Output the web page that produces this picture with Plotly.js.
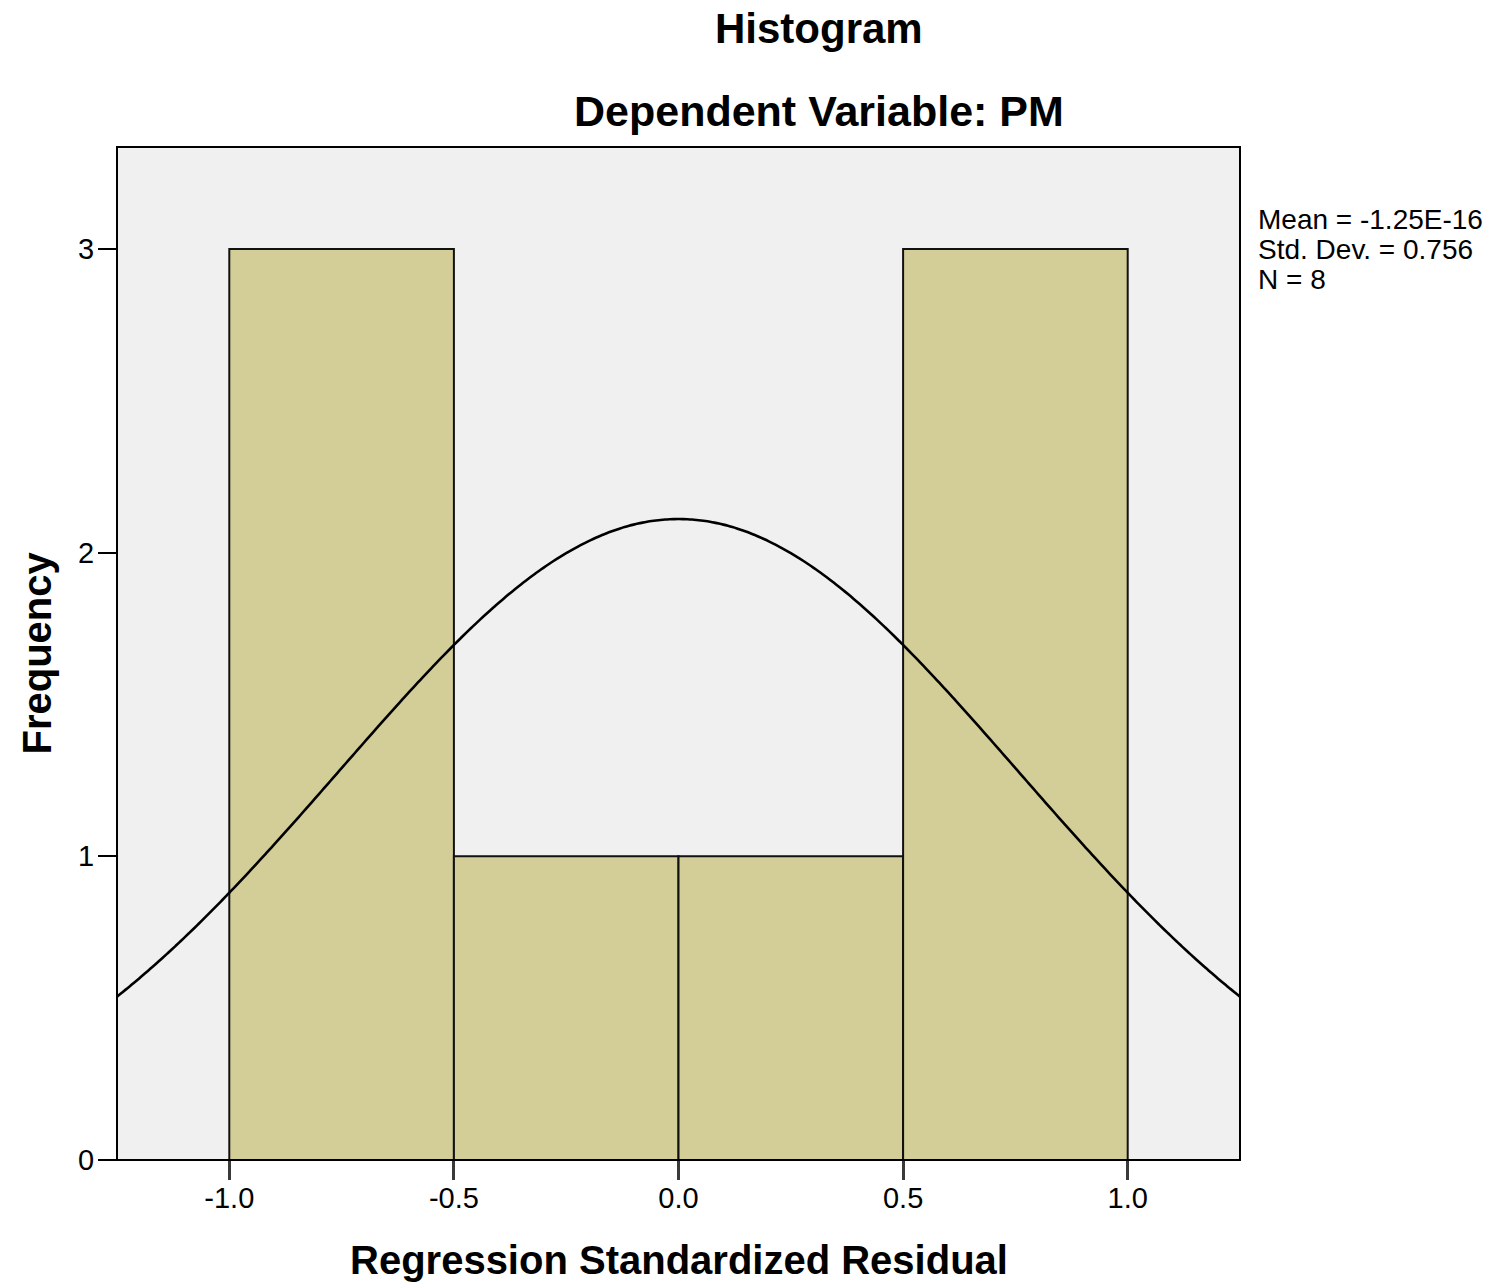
<!DOCTYPE html>
<html>
<head>
<meta charset="utf-8">
<script src="https://cdn.plot.ly/plotly-3.0.1.min.js"></script>
<style>
  html, body { margin: 0; padding: 0; background: #ffffff; }
  #chart { width: 1497px; height: 1285px; }
</style>
</head>
<body>
<div id="chart"></div>
<script>
// Regression standardized residual histogram (bin width 0.5)
const binCenters = [-0.75, -0.25, 0.25, 0.75];
const binCounts = [3, 1, 1, 3];
const binWidth = 0.5;

// Summary statistics shown beside the plot
const statMean = -1.25e-16;
const statSD = 0.756;
const statN = 8;
const statLines = ["Mean = -1.25E-16", "Std. Dev. = 0.756", "N = 8"];

const xTicks = [-1.0, -0.5, 0.0, 0.5, 1.0];
const xTickText = ["-1.0", "-0.5", "0.0", "0.5", "1.0"];
const yTicks = [0, 1, 2, 3];

// Normal curve scaled to frequency: N * binWidth * pdf(x)
const curveX = [];
const curveY = [];
for (let i = 0; i <= 250; i++) {
  const x = -1.25 + i * 0.01;
  const z = (x - statMean) / statSD;
  curveX.push(x);
  curveY.push(statN * binWidth * Math.exp(-0.5 * z * z) / (statSD * Math.sqrt(2 * Math.PI)));
}

const font = "Liberation Sans, Arial, sans-serif";

const traces = [
  {
    type: "bar",
    x: binCenters,
    y: binCounts,
    width: binWidth,
    marker: { color: "#d3ce97", line: { color: "#111111", width: 2 } },
    hoverinfo: "x+y"
  },
  {
    type: "scatter",
    mode: "lines",
    x: curveX,
    y: curveY,
    line: { color: "#000000", width: 2.6, shape: "spline" },
    hoverinfo: "skip"
  }
];

// Stats block: one annotation per line, 30 px apart
const statAnnotations = statLines.map((t, i) => ({
  text: t, xref: "paper", yref: "paper", x: 1, xshift: 16, y: 1, yshift: -72 - 30 * i,
  xanchor: "left", yanchor: "middle", align: "left", showarrow: false,
  font: { size: 28, family: font, color: "#000000" }
}));

const layout = {
  width: 1497,
  height: 1285,
  showlegend: false,
  paper_bgcolor: "#ffffff",
  plot_bgcolor: "#f0f0f0",
  margin: { l: 117, r: 257, t: 147, b: 125 },
  bargap: 0,
  font: { family: font, color: "#000000" },
  xaxis: {
    range: [-1.25, 1.25],
    tickvals: xTicks,
    ticktext: xTickText,
    ticks: "outside",
    ticklen: 19,
    tickwidth: 3,
    tickcolor: "#3a3a3a",
    ticklabelstandoff: -7,
    tickfont: { size: 29, family: font, color: "#000000" },
    showgrid: false,
    zeroline: false,
    showline: false
  },
  yaxis: {
    range: [0, 3.336],
    tickvals: yTicks,
    ticks: "outside",
    ticklen: 18,
    tickwidth: 2,
    tickcolor: "#000000",
    ticklabelstandoff: -2,
    tickfont: { size: 29, family: font, color: "#000000" },
    showgrid: false,
    zeroline: false,
    showline: false
  },
  shapes: [
    { type: "rect", xref: "paper", yref: "paper", x0: 0, x1: 1, y0: 0, y1: 1,
      line: { color: "#000000", width: 2 }, fillcolor: "rgba(0,0,0,0)", layer: "above" }
  ],
  annotations: [
    { text: "<b>Histogram</b>", xref: "paper", yref: "paper", x: 0.625, y: 1, yshift: 119,
      xanchor: "center", yanchor: "middle", showarrow: false, font: { size: 42, family: font } },
    { text: "<b>Dependent Variable: PM</b>", xref: "paper", yref: "paper", x: 0.625, y: 1, yshift: 36,
      xanchor: "center", yanchor: "middle", showarrow: false, font: { size: 43, family: font } },
    { text: "<b>Regression Standardized Residual</b>", xref: "paper", yref: "paper", x: 0.5, y: 0, yshift: -100,
      xanchor: "center", yanchor: "middle", showarrow: false, font: { size: 40, family: font } },
    { text: "<b>Frequency</b>", xref: "paper", yref: "paper", x: 0, xshift: -81, y: 0.5,
      textangle: -90, xanchor: "center", yanchor: "middle", showarrow: false, font: { size: 40, family: font } }
  ].concat(statAnnotations)
};

Plotly.newPlot("chart", traces, layout, { displayModeBar: false, staticPlot: true });
</script>
</body>
</html>
